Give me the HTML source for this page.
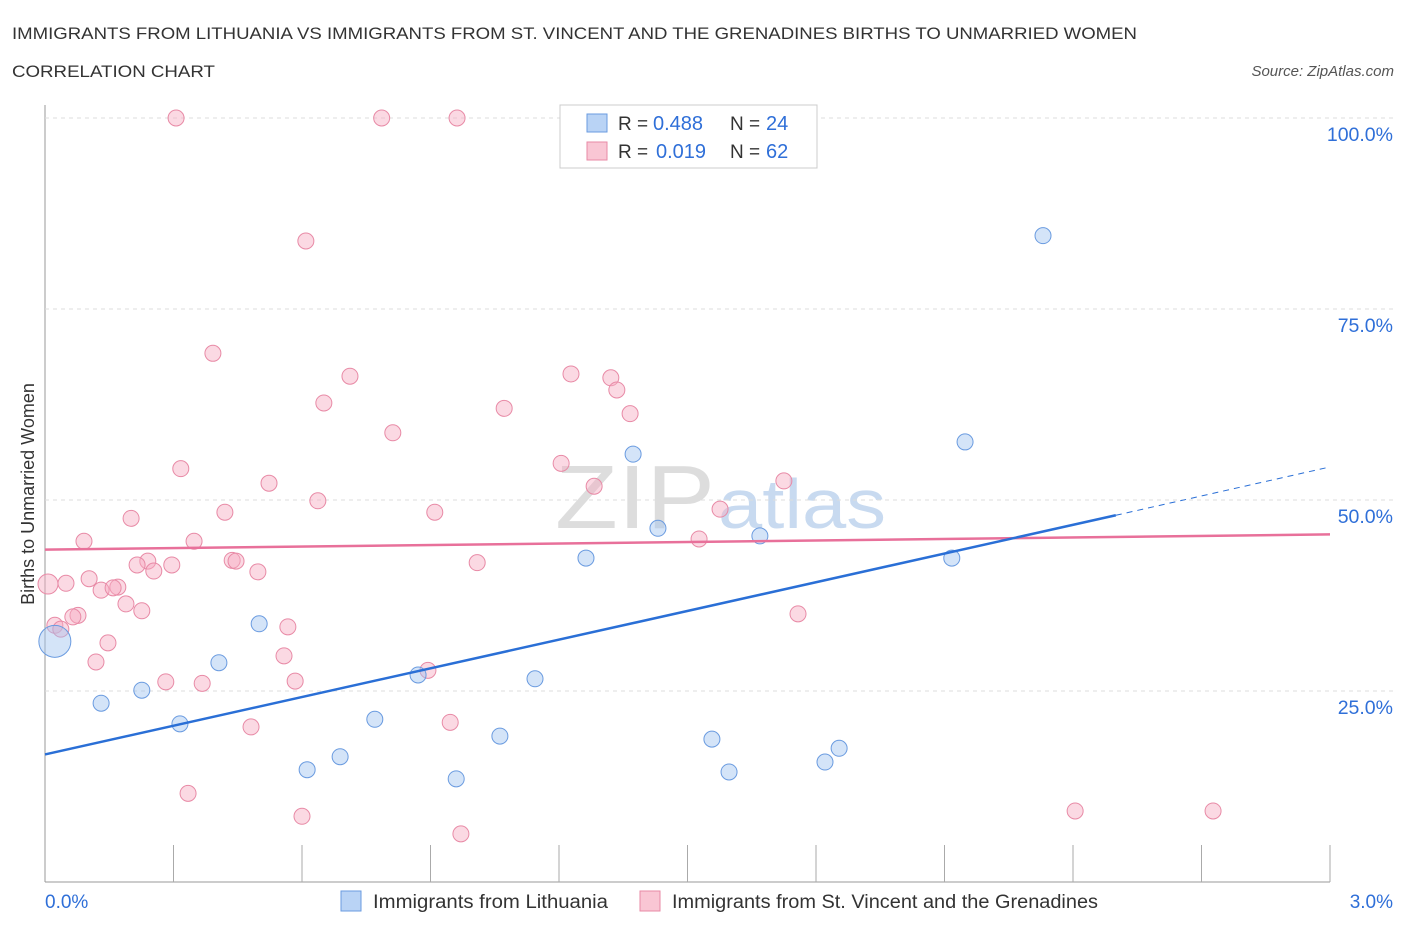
<!DOCTYPE html>
<html><head><meta charset="utf-8"><style>
body{margin:0;background:#fff;font-family:"Liberation Sans",sans-serif;}
svg text{font-family:"Liberation Sans",sans-serif;}
</style></head><body>
<svg id="c" width="1406" height="930">
<text x="12" y="39" font-size="17" fill="#333" textLength="1125" lengthAdjust="spacingAndGlyphs">IMMIGRANTS FROM LITHUANIA VS IMMIGRANTS FROM ST. VINCENT AND THE GRENADINES BIRTHS TO UNMARRIED WOMEN</text>
<text x="12" y="77" font-size="17" fill="#333" textLength="203" lengthAdjust="spacingAndGlyphs">CORRELATION CHART</text>
<text x="1394" y="76" font-size="15" fill="#555" font-style="italic" text-anchor="end">Source: ZipAtlas.com</text>
<g>
<text x="555" y="528" font-size="90" fill="#ddd" font-family="Liberation Serif" textLength="160" lengthAdjust="spacingAndGlyphs">ZIP</text>
<text x="718" y="528" font-size="70" fill="#c8daf0" textLength="168" lengthAdjust="spacingAndGlyphs">atlas</text>
</g>
<text transform="translate(34,494) rotate(-90)" font-size="18" fill="#333" text-anchor="middle">Births to Unmarried Women</text>
<g id="grid"></g><g id="marks"></g>
<g>
<rect x="560" y="105" width="257" height="63" fill="#fff" stroke="#ccc"/>
<rect x="587" y="114" width="20" height="18" fill="#b9d3f5" stroke="#6a9be0"/>
<rect x="587" y="142" width="20" height="18" fill="#f9c6d4" stroke="#e88aa6"/>
<text x="618" y="130" font-size="19" fill="#333">R =</text>
<text x="653" y="130" font-size="20" fill="#2f6fd8">0.488</text>
<text x="730" y="130" font-size="19" fill="#333">N =</text>
<text x="766" y="130" font-size="20" fill="#2f6fd8">24</text>
<text x="618" y="158" font-size="19" fill="#333">R =</text>
<text x="656" y="158" font-size="20" fill="#2f6fd8">0.019</text>
<text x="730" y="158" font-size="19" fill="#333">N =</text>
<text x="766" y="158" font-size="20" fill="#2f6fd8">62</text>
</g>
<g>
<rect x="341" y="891" width="20" height="20" fill="#b9d3f5" stroke="#6a9be0"/>
<text x="373" y="908" font-size="19" fill="#333" textLength="235" lengthAdjust="spacingAndGlyphs">Immigrants from Lithuania</text>
<rect x="640" y="891" width="20" height="20" fill="#f9c6d4" stroke="#e88aa6"/>
<text x="672" y="908" font-size="19" fill="#333" textLength="426" lengthAdjust="spacingAndGlyphs">Immigrants from St. Vincent and the Grenadines</text>
</g>
</svg>
<script>
const xTicks=[0,3];
const yTicks=[25,50,75,100];
const blueX=[0.023,0.131,0.226,0.315,0.406,0.500,0.612,0.689,0.770,0.871,0.960,1.062,1.144,1.263,1.373,1.431,1.557,1.597,1.669,1.821,1.854,2.117,2.148,2.330];
const blueY=[31.5,23.4,25.1,20.7,28.7,33.8,14.7,16.4,21.3,27.1,13.5,19.1,26.6,42.4,56.0,46.3,18.7,14.4,45.3,15.7,17.5,42.4,57.6,84.6];
const pinkX=[.306,.786,.962,.609,.392,.712,1.228,1.321,1.335,.651,1.072,1.366,.812,.317,1.205,.523,1.282,.637,1.725,.201,.420,.910,1.576,.091,.348,1.527,.240,.437,.446,.296,.215,.254,.497,1.009,.007,.049,.103,.170,.131,.159,.189,.226,.077,.065,.023,.037,.567,.147,.119,.282,.367,.584,.558,.894,.481,.946,1.758,.334,.600,.971,2.405,2.727];
const pinkY=[100,100,100,83.9,69.2,66.2,66.5,66.0,64.4,62.7,62.0,61.3,58.8,54.1,54.8,52.2,51.8,49.9,52.5,47.6,48.4,48.4,48.8,44.6,44.6,44.9,42.0,42.1,42.0,41.5,41.5,40.7,40.6,41.8,39.0,39.1,39.7,38.6,38.2,38.5,36.4,35.5,34.9,34.7,33.6,33.1,33.4,31.3,28.8,26.2,26.0,26.3,29.6,27.7,20.3,20.9,35.1,11.6,8.6,6.3,9.3,9.3];
const blueTrend=[16.7,48.0,54.2];
const pinkTrend=[43.5,45.5];
const X=v=>45+v*1285/3, Y=v=>882-v*7.64;
const NS="http://www.w3.org/2000/svg";
function mk(t,a,p){const e=document.createElementNS(NS,t);for(const k in a)e.setAttribute(k,a[k]);p.appendChild(e);return e;}
const g=document.getElementById('grid'), m=document.getElementById('marks');
const ax=mk('line',{x1:45,y1:105,x2:45,y2:882,stroke:'#999'},g);


const bx=mk('line',{x1:45,y1:882,x2:1330,y2:882,stroke:'#999'},g);


for(let i=1;i<=10;i++){const t=mk('line',{x1:45+i*128.5,y1:845,x2:45+i*128.5,y2:882,stroke:'#aaa'},g);

}
yTicks.forEach(v=>{const l=mk('line',{x1:45,y1:Y(v),x2:1395,y2:Y(v),stroke:'#ddd','stroke-dasharray':'4,4'},g);


const t=mk('text',{x:1393,y:Y(v)+23,'font-size':19.5,fill:'#2f6fd8','text-anchor':'end'},g);t.textContent=v.toFixed(1)+'%';

});
xTicks.forEach(v=>{const t=mk('text',{x:v?1393:45,y:908,'font-size':19,fill:'#2f6fd8','text-anchor':v?'end':'start'},g);t.textContent=v.toFixed(1)+'%';

});
pinkX.forEach((x,i)=>{const c=mk('circle',{cx:X(x),cy:Y(pinkY[i]),r:i==34?10:8,fill:'rgba(246,170,192,0.45)',stroke:'#e88aa6','stroke-width':1},m);

});
blueX.forEach((x,i)=>{const c=mk('circle',{cx:X(x),cy:Y(blueY[i]),r:i==0?16:8,fill:'rgba(160,195,240,0.45)',stroke:'#6a9be0','stroke-width':1},m);

});
const pl=mk('line',{x1:X(0),y1:Y(pinkTrend[0]),x2:X(3),y2:Y(pinkTrend[1]),stroke:'#e8709a','stroke-width':2.5},m);


const bl=mk('line',{x1:X(0),y1:Y(blueTrend[0]),x2:X(2.5),y2:Y(blueTrend[1]),stroke:'#2a6fd6','stroke-width':2.5},m);


const bd=mk('line',{x1:X(2.5),y1:Y(blueTrend[1]),x2:X(2.99),y2:Y(blueTrend[2]),stroke:'#2a6fd6','stroke-width':1,'stroke-dasharray':'6,5'},m);


</script>
</body></html>
